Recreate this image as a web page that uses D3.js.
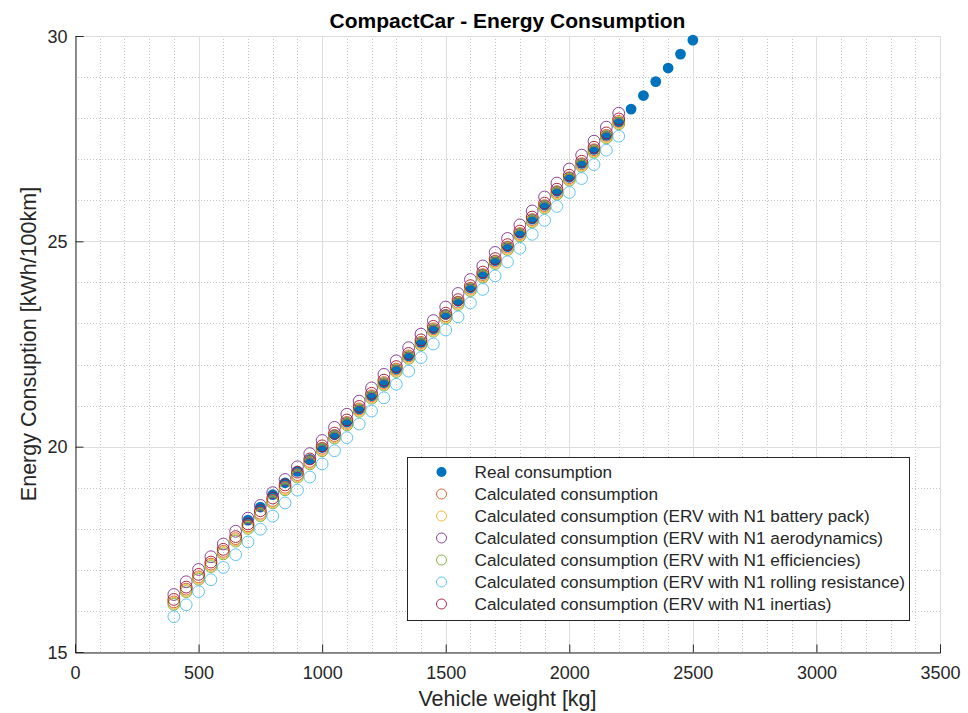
<!DOCTYPE html>
<html>
<head>
<meta charset="utf-8">
<script src="https://cdn.jsdelivr.net/npm/d3@7/dist/d3.min.js"></script>
<style>
  html, body { margin: 0; padding: 0; background: #fff; }
  svg { display: block; font-family: "Liberation Sans", Arial, Helvetica, sans-serif; }
</style>
</head>
<body>
<svg id="chart" width="968" height="713"></svg>
<script>
// Vehicle weights [kg]
const weightsCalc = [400, 450, 500, 550, 600, 650, 700, 750, 800, 850, 900, 950, 1000, 1050, 1100, 1150,
  1200, 1250, 1300, 1350, 1400, 1450, 1500, 1550, 1600, 1650, 1700, 1750, 1800, 1850, 1900, 1950,
  2000, 2050, 2100, 2150, 2200];
const weightsReal = [700, 750, 800, 850, 900, 950, 1000, 1050, 1100, 1150, 1200, 1250, 1300, 1350,
  1400, 1450, 1500, 1550, 1600, 1650, 1700, 1750, 1800, 1850, 1900, 1950, 2000, 2050, 2100, 2150,
  2200, 2250, 2300, 2350, 2400, 2450, 2500];

// Energy consumption [kWh/100km]
const realConsumption = [18.21, 18.53, 18.83, 19.12, 19.40, 19.69, 19.98, 20.29, 20.60, 20.92,
  21.24, 21.56, 21.89, 22.21, 22.54, 22.87, 23.22, 23.54, 23.87, 24.20, 24.53, 24.87, 25.20, 25.54,
  25.88, 26.22, 26.56, 26.90, 27.24, 27.58, 27.91, 28.22, 28.55, 28.89, 29.22, 29.56, 29.90];
const calcConsumption = [16.22, 16.53, 16.83, 17.14, 17.45, 17.76, 18.07, 18.38, 18.69, 19.01,
  19.32, 19.64, 19.96, 20.27, 20.59, 20.92, 21.24, 21.56, 21.89, 22.21, 22.54, 22.87, 23.19, 23.52,
  23.86, 24.19, 24.52, 24.86, 25.19, 25.53, 25.87, 26.21, 26.55, 26.89, 27.23, 27.58, 27.92];
const calcBattery = [16.19, 16.50, 16.80, 17.11, 17.42, 17.73, 18.04, 18.35, 18.66, 18.98,
  19.29, 19.61, 19.93, 20.24, 20.56, 20.89, 21.21, 21.53, 21.86, 22.18, 22.51, 22.84, 23.16, 23.49,
  23.83, 24.16, 24.49, 24.83, 25.16, 25.50, 25.84, 26.18, 26.52, 26.86, 27.20, 27.55, 27.89];
const calcAero = [16.40, 16.71, 17.01, 17.32, 17.63, 17.94, 18.26, 18.57, 18.88, 19.20,
  19.51, 19.83, 20.15, 20.47, 20.79, 21.11, 21.43, 21.76, 22.09, 22.41, 22.74, 23.07, 23.40, 23.73,
  24.07, 24.40, 24.73, 25.07, 25.40, 25.74, 26.08, 26.42, 26.76, 27.10, 27.44, 27.78, 28.12];
const calcEfficiency = [16.16, 16.47, 16.77, 17.08, 17.39, 17.70, 18.01, 18.32, 18.63, 18.95,
  19.26, 19.58, 19.90, 20.21, 20.53, 20.86, 21.18, 21.50, 21.83, 22.15, 22.48, 22.81, 23.13, 23.46,
  23.80, 24.13, 24.46, 24.80, 25.13, 25.47, 25.81, 26.15, 26.49, 26.83, 27.17, 27.52, 27.86];
const calcRolling = [15.86, 16.15, 16.47, 16.76, 17.06, 17.37, 17.68, 17.99, 18.31, 18.63,
  18.94, 19.26, 19.58, 19.90, 20.22, 20.55, 20.87, 21.19, 21.52, 21.84, 22.17, 22.50, 22.84, 23.16,
  23.50, 23.83, 24.16, 24.50, 24.83, 25.17, 25.51, 25.85, 26.19, 26.53, 26.87, 27.22, 27.56];
const calcInertia = [16.28, 16.58, 16.89, 17.19, 17.50, 17.81, 18.12, 18.44, 18.75, 19.07,
  19.38, 19.70, 20.02, 20.33, 20.65, 20.98, 21.30, 21.62, 21.95, 22.27, 22.60, 22.93, 23.25, 23.58,
  23.92, 24.25, 24.58, 24.92, 25.25, 25.59, 25.93, 26.27, 26.61, 26.95, 27.29, 27.64, 27.98];

const seriesNames = [
  "Real consumption",
  "Calculated consumption",
  "Calculated consumption (ERV with N1 battery pack)",
  "Calculated consumption (ERV with N1 aerodynamics)",
  "Calculated consumption (ERV with N1 efficiencies)",
  "Calculated consumption (ERV with N1 rolling resistance)",
  "Calculated consumption (ERV with N1 inertias)"
];
const seriesColors = ["#0072BD", "#D95319", "#EDB120", "#7E2F8E", "#77AC30", "#4DBEEE", "#A2142F"];

const xTicks = [0, 500, 1000, 1500, 2000, 2500, 3000, 3500];
const yTicks = [15, 20, 25, 30];

const series = [
  { name: seriesNames[0], color: seriesColors[0], filled: true, x: weightsReal, y: realConsumption },
  { name: seriesNames[1], color: seriesColors[1], filled: false, x: weightsCalc, y: calcConsumption },
  { name: seriesNames[2], color: seriesColors[2], filled: false, x: weightsCalc, y: calcBattery },
  { name: seriesNames[3], color: seriesColors[3], filled: false, x: weightsCalc, y: calcAero },
  { name: seriesNames[4], color: seriesColors[4], filled: false, x: weightsCalc, y: calcEfficiency },
  { name: seriesNames[5], color: seriesColors[5], filled: false, x: weightsCalc, y: calcRolling },
  { name: seriesNames[6], color: seriesColors[6], filled: false, x: weightsCalc, y: calcInertia }
];

const svg = d3.select("#chart");
const plotLeft = 75, plotRight = 940, plotTop = 36, plotBottom = 652;

const x = d3.scaleLinear().domain([0, 3500]).range([plotLeft, plotRight]);
const y = d3.scaleLinear().domain([15, 30]).range([plotBottom, plotTop]);

const axisColor = "#262626";

// Minor grid (dotted)
const minorX = d3.range(0, 3501, 100).filter(v => v % 500 !== 0);
const minorY = d3.range(15, 30.01, 1).filter(v => v % 5 !== 0);
const grid = svg.append("g");
grid.selectAll("line.mx").data(minorX).join("line")
  .attr("x1", d => Math.round(x(d)) + 0.5).attr("x2", d => Math.round(x(d)) + 0.5)
  .attr("y1", plotTop).attr("y2", plotBottom)
  .attr("stroke", "#c4c4c4").attr("stroke-width", 1).attr("stroke-dasharray", "1,2");
grid.selectAll("line.my").data(minorY).join("line")
  .attr("y1", d => Math.round(y(d)) + 0.5).attr("y2", d => Math.round(y(d)) + 0.5)
  .attr("x1", plotLeft).attr("x2", plotRight)
  .attr("stroke", "#c4c4c4").attr("stroke-width", 1).attr("stroke-dasharray", "1,2");

// Major grid (solid)
grid.selectAll("line.gx").data(xTicks).join("line")
  .attr("x1", d => Math.round(x(d)) + 0.5).attr("x2", d => Math.round(x(d)) + 0.5)
  .attr("y1", plotTop).attr("y2", plotBottom)
  .attr("stroke", "#dedede").attr("stroke-width", 1);
grid.selectAll("line.gy").data(yTicks).join("line")
  .attr("y1", d => Math.round(y(d)) + 0.5).attr("y2", d => Math.round(y(d)) + 0.5)
  .attr("x1", plotLeft).attr("x2", plotRight)
  .attr("stroke", "#dedede").attr("stroke-width", 1);

// Axes
const xAxis = d3.axisBottom(x).tickValues(xTicks).tickSize(-8).tickPadding(14).tickFormat(d3.format("d"));
const yAxis = d3.axisLeft(y).tickValues(yTicks).tickSize(-8).tickPadding(8).tickFormat(d3.format("d"));

const gx = svg.append("g").attr("transform", `translate(0,${plotBottom + 0.5})`).call(xAxis);
const gy = svg.append("g").attr("transform", `translate(${plotLeft + 0.5},0)`).call(yAxis);
[gx, gy].forEach(g => {
  g.select(".domain").attr("stroke", axisColor).attr("stroke-width", 1);
  g.selectAll(".tick line").attr("stroke", axisColor);
  g.selectAll(".tick text").attr("fill", axisColor).style("font-size", "18px")
    .style("font-family", '"Liberation Sans", Arial, sans-serif');
});
gx.selectAll(".tick text").attr("dy", "0.71em");
gy.selectAll(".tick text").attr("dy", "0.35em");

// Data markers
const plot = svg.append("g");
series.forEach(s => {
  const pts = s.x.map((v, i) => [v, s.y[i]]);
  plot.append("g").selectAll("circle").data(pts).join("circle")
    .attr("cx", d => x(d[0]))
    .attr("cy", d => y(d[1]))
    .attr("r", s.filled ? 5.4 : 5.9)
    .attr("fill", s.filled ? s.color : "none")
    .attr("stroke", s.filled ? "none" : s.color)
    .attr("stroke-width", 0.9);
});

// Title and axis labels
svg.append("text")
  .attr("x", (plotLeft + plotRight) / 2).attr("y", 28)
  .attr("text-anchor", "middle")
  .style("font-size", "21px").style("font-weight", "bold").attr("fill", "#000")
  .text("CompactCar - Energy Consumption");

svg.append("text")
  .attr("x", (plotLeft + plotRight) / 2).attr("y", 706)
  .attr("text-anchor", "middle")
  .style("font-size", "21.5px").attr("fill", axisColor)
  .text("Vehicle weight [kg]");

svg.append("text")
  .attr("transform", `translate(36,${(plotTop + plotBottom) / 2}) rotate(-90)`)
  .attr("text-anchor", "middle")
  .style("font-size", "21.5px").attr("fill", axisColor)
  .text("Energy Consuption [kWh/100km]");

// Legend
const lgX = 407.5, lgY = 457.5, lgW = 502, lgH = 163, rowH = 22;
const legend = svg.append("g");
legend.append("rect")
  .attr("x", lgX).attr("y", lgY).attr("width", lgW).attr("height", lgH)
  .attr("fill", "#fff").attr("stroke", axisColor).attr("stroke-width", 1);
const rows = legend.selectAll("g.row").data(series).join("g")
  .attr("transform", (d, i) => `translate(${lgX},${lgY + 14.5 + i * rowH})`);
rows.append("circle")
  .attr("cx", 34).attr("cy", 0)
  .attr("r", 5)
  .attr("fill", d => d.filled ? d.color : "none")
  .attr("stroke", d => d.filled ? "none" : d.color)
  .attr("stroke-width", 0.9);
rows.append("text")
  .attr("x", 67).attr("y", 0).attr("dy", "0.35em")
  .style("font-size", "17.2px").attr("fill", axisColor)
  .text(d => d.name);
</script>
</body>
</html>
